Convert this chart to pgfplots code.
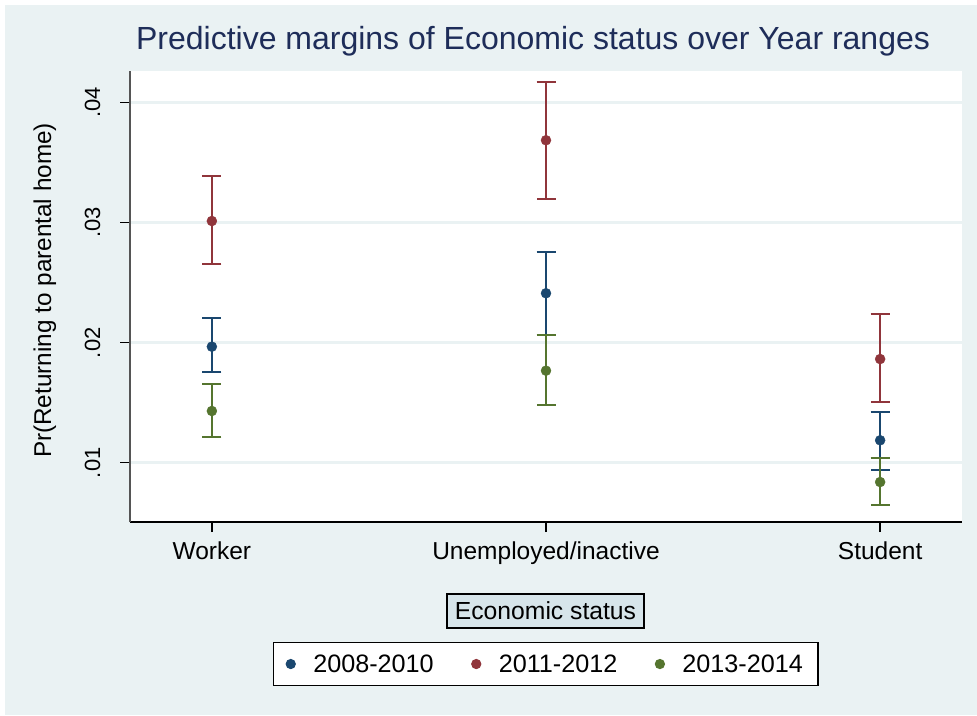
\documentclass[border=0pt]{standalone}
\usepackage{pgfplots}
\pgfplotsset{compat=1.18}
\usepackage{pgfplotstable}
\usepackage{fontspec}
\setmainfont{Liberation Sans}

\definecolor{stnavy}{HTML}{1A476F}
\definecolor{stmaroon}{HTML}{90353B}
\definecolor{stgreen}{HTML}{55752F}
\definecolor{stbg}{HTML}{EAF2F3}
\definecolor{stlegtitle}{HTML}{D7E5EA}
\definecolor{sttitle}{HTML}{1E2D59}
\definecolor{styaxis}{HTML}{555555}

% Predictive margins with 95% CI; x: 0 = Worker, 1 = Unemployed/inactive, 2 = Student
\pgfplotstableread{
x y ep em
0 0.01967 0.00236 0.00214
1 0.02412 0.00341 0.00345
2 0.01187 0.00233 0.00245
}\periodA
\pgfplotstableread{
x y ep em
0 0.03014 0.00373 0.00356
1 0.03687 0.00483 0.00489
2 0.01864 0.00373 0.00361
}\periodB
\pgfplotstableread{
x y ep em
0 0.01431 0.00222 0.00214
1 0.01767 0.00300 0.00284
2 0.00839 0.00198 0.00192
}\periodC

\pgfplotsset{
  ci/.style={
    only marks, mark=*, mark size=5pt, color=#1, mark options={fill=#1, draw=#1},
    error bars/.cd, y dir=both, y explicit,
    error bar style={line width=2pt, color=#1},
    error mark options={rotate=90, mark size=9.5pt, line width=2pt, color=#1},
  },
}

\begin{document}
\begin{tikzpicture}
\useasboundingbox (0pt,0pt) rectangle (977pt,-715pt);
\fill[white] (0pt,0pt) rectangle (977pt,-715pt);
\fill[stbg] (5pt,-5pt) rectangle (977pt,-715pt);
\begin{axis}[
  at={(130pt,-522pt)}, anchor=south west,
  scale only axis, width=832pt, height=451pt,
  xmin=-0.245, xmax=2.245, ymin=0.00506, ymax=0.04264,
  scaled y ticks=false,
  axis background/.style={fill=white},
  axis x line*=bottom, axis y line*=left,
  x axis line style={black, line width=1.5pt, -},
  y axis line style={styaxis, line width=2pt, -},
  tick align=outside, major tick length=10pt,
  tick style={line width=1.5pt, black},
  xtick={0,1,2},
  xticklabels={Worker, Unemployed/inactive, Student},
  ytick={0.01,0.02,0.03,0.04},
  yticklabels={.01,.02,.03,.04},
  xticklabel style={font=\fontsize{24.5}{28}\selectfont, anchor=base, inner sep=0pt},
  yticklabel style={font=\fontsize{22}{26}\selectfont, rotate=90, anchor=base, inner sep=0pt},
  xticklabel shift=27.3pt,
  yticklabel shift=20pt,
  ymajorgrids, grid style={stbg, line width=2.5pt},
  title={Predictive margins of Economic status over Year ranges},
  every axis title/.style={font=\fontsize{32}{36}\selectfont, color=sttitle,
    at={(axis description cs:0.4844,1.0466)}, anchor=base, inner sep=0pt},
  ylabel={Pr(Returning to parental home)},
  every axis y label/.style={font=\fontsize{24.3}{28}\selectfont,
    at={(axis description cs:-0.1022,0.5133)}, rotate=90, anchor=center, inner sep=0pt},
  legend columns=3,
  legend style={at={(axis description cs:0.4995,-0.3149)}, anchor=center,
    draw=black, line width=1.2pt, fill=white, inner xsep=13pt, inner ysep=10pt,
    font=\fontsize{25.2}{28}\selectfont,
    /tikz/every odd column/.append style={column sep=16pt},
    /tikz/every even column/.append style={column sep=36pt}},
  legend image code/.code={\draw[#1, mark size=4.5pt] plot coordinates {(10pt,0pt)};},
  clip=false,
]
\addplot+[ci=stnavy] table[x=x, y=y, y error plus=ep, y error minus=em] {\periodA};
\addlegendentry{2008-2010}
\addplot+[ci=stmaroon] table[x=x, y=y, y error plus=ep, y error minus=em] {\periodB};
\addlegendentry{2011-2012}
\addplot+[ci=stgreen] table[x=x, y=y, y error plus=ep, y error minus=em] {\periodC};
\addlegendentry{2013-2014}
\end{axis}
% legend title box
\node[draw=black, line width=1.2pt, fill=stlegtitle, minimum width=197pt, minimum height=34pt,
  inner sep=0pt, font=\fontsize{24.7}{28}\selectfont] at (545.5pt,-611pt) {Economic status};
\end{tikzpicture}
\end{document}
